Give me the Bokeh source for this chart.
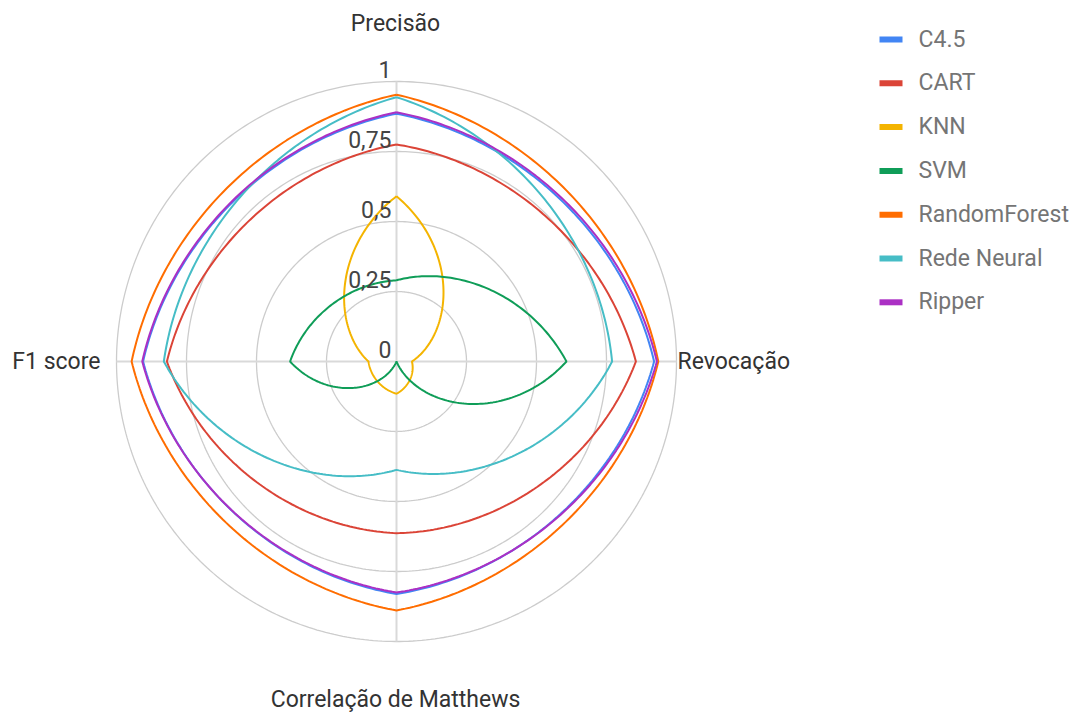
import numpy as np
from bokeh.plotting import figure
from bokeh.models import Range1d
from bokeh.core.properties import value
from bokeh.embed import file_html
from bokeh.resources import INLINE

# ---- data ----
metrics = ["Precisão", "Revocação", "Correlação de Matthews", "F1 score"]
tick_values = [0, 0.25, 0.5, 0.75, 1]
tick_labels = ["0", "0,25", "0,5", "0,75", "1"]
series_names = ["C4.5", "CART", "KNN", "SVM", "RandomForest", "Rede Neural", "Ripper"]
c45 = [0.885, 0.92, 0.83, 0.905]
cart = [0.775, 0.855, 0.613, 0.82]
knn = [0.59, 0.055, 0.115, 0.10]
svm = [0.29, 0.607, 0.0, 0.38]
random_forest = [0.953, 0.935, 0.889, 0.946]
rede_neural = [0.944, 0.77, 0.387, 0.831]
ripper = [0.89, 0.93, 0.825, 0.908]
series_values = [c45, cart, knn, svm, random_forest, rede_neural, ripper]
colors = ["#4285F4", "#DB4437", "#F4B400", "#0F9D58", "#FF6D00", "#46BDC6", "#AB30C4"]

# ---- layout ----
W, H = 1083, 715
CX, CY, R = 396, 361, 280  # pixel center and radius of value 1
FS = "23px"

def px(x, y):
    return (x - CX) / R, (CY - y) / R

p = figure(width=W, height=H, output_backend="svg", toolbar_location=None,
           x_range=Range1d(-CX / R, (W - CX) / R), y_range=Range1d(-(H - CY) / R, CY / R),
           min_border=0, min_border_left=0, min_border_right=0, min_border_top=0, min_border_bottom=0)
p.xaxis.visible = False
p.yaxis.visible = False
p.grid.visible = False
p.outline_line_color = None
p.background_fill_color = "white"
p.border_fill_color = "white"

FONT = value("Roboto")
n_ax = len(metrics)
angles = [np.pi / 2 - 2 * np.pi * k / n_ax for k in range(n_ax)]

# grid circles
t = np.linspace(0, 2 * np.pi, 400)
for tv in tick_values[1:]:
    p.line(tv * np.cos(t), tv * np.sin(t), line_color="#cccccc", line_width=1.3)
# spokes
for a in angles:
    p.line([0, np.cos(a)], [0, np.sin(a)], line_color="#d9d9d9", line_width=2)

# series: smoothed segments between neighbouring axes
ALPHA = 0.7
def curve(vals, steps=80):
    xs, ys = [], []
    for k in range(n_ax):
        r0, r1 = vals[k], vals[(k + 1) % n_ax]
        a0 = angles[k]
        a1 = a0 - 2 * np.pi / n_ax
        f = np.linspace(0, 1, steps, endpoint=(k == n_ax - 1))
        rr = r0 + (r1 - r0) * f
        aa = a0 + (a1 - a0) * f
        polx, poly = rr * np.cos(aa), rr * np.sin(aa)
        x0, y0 = r0 * np.cos(a0), r0 * np.sin(a0)
        x1, y1 = r1 * np.cos(a1), r1 * np.sin(a1)
        linx, liny = x0 + (x1 - x0) * f, y0 + (y1 - y0) * f
        xs.extend(ALPHA * polx + (1 - ALPHA) * linx)
        ys.extend(ALPHA * poly + (1 - ALPHA) * liny)
    return xs, ys

for vals, col in zip(series_values, colors):
    xs, ys = curve(vals)
    p.line(xs, ys, line_color=col, line_width=2)

# tick labels
for tv, tl in zip(tick_values, tick_labels):
    x, y = px(391, CY - tv * R - 12)
    p.text([x], [y], text=[tl], text_font=FONT, text_font_size=FS,
           text_color="#444444", text_align="right", text_baseline="middle")

# axis labels
lx, ly = px(395, 23)
p.text([lx], [ly], text=[metrics[0]], text_font=FONT, text_font_size=FS,
       text_color="#333333", text_align="center", text_baseline="middle")
lx, ly = px(677, 361)
p.text([lx], [ly], text=[metrics[1]], text_font=FONT, text_font_size=FS,
       text_color="#333333", text_align="left", text_baseline="middle")
lx, ly = px(395, 699)
p.text([lx], [ly], text=[metrics[2]], text_font=FONT, text_font_size=FS,
       text_color="#333333", text_align="center", text_baseline="middle")
lx, ly = px(100, 361)
p.text([lx], [ly], text=[metrics[3]], text_font=FONT, text_font_size=FS,
       text_color="#333333", text_align="right", text_baseline="middle")

# legend
for i, (name, col) in enumerate(zip(series_names, colors)):
    yy = 39 + i * 43.8
    x0, y0 = px(879, yy)
    x1, _ = px(902, yy)
    p.line([x0, x1], [y0, y0], line_color=col, line_width=6)
    tx, ty = px(918, yy - 0.5)
    p.text([tx], [ty], text=[name], text_font=FONT, text_font_size=FS,
           text_color="#757575", text_align="left", text_baseline="middle")

open("out.html", "w").write(file_html(p, INLINE))
